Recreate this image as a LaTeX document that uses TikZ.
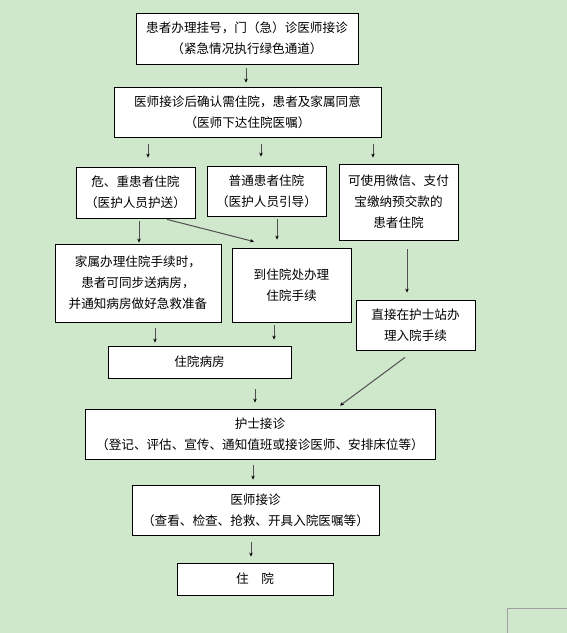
\documentclass[tikz,border=0pt]{standalone}
\usepackage{fontspec}
\newfontfamily\cjk{Noto Sans CJK SC}
\usetikzlibrary{arrows.meta}
\definecolor{bg}{RGB}{207,231,203}
\definecolor{arrgray}{RGB}{80,80,80}
\definecolor{markgray}{RGB}{160,160,160}
\tikzset{
  box/.style={draw=black, line width=0.8pt, fill=white, align=center, inner sep=0pt,
    font=\cjk\fontsize{12.6pt}{21pt}\selectfont},
  arr/.style={draw=arrgray, line width=1pt, -{Stealth[length=4pt,width=3.5pt,black]}},
}
\begin{document}
\begin{tikzpicture}[x=1pt,y=-1pt]
\fill[bg] (0,0) rectangle (567,633);
\useasboundingbox (0,0) rectangle (567,633);
\draw[markgray, line width=1pt] (567,608) -- (507,608) -- (507,633);

\node[box, minimum width=222pt, minimum height=51pt] (b1) at (247,38.5) {患者办理挂号，门（急）诊医师接诊\\（紧急情况执行绿色通道）};
\node[box, minimum width=267pt, minimum height=50pt] (b2) at (247.5,112) {医师接诊后确认需住院，患者及家属同意\\（医师下达住院医嘱）};
\node[box, minimum width=119pt, minimum height=51pt] (b3a) at (135.5,192.5) {危、重患者住院\\（医护人员护送）};
\node[box, minimum width=119pt, minimum height=50pt] (b3b) at (266.5,191) {普通患者住院\\（医护人员引导）};
\node[box, minimum width=119pt, minimum height=76pt] (b3c) at (398.5,202) {可使用微信、支付\\宝缴纳预交款的\\患者住院};
\node[box, minimum width=166pt, minimum height=78pt] (b4a) at (138,283) {家属办理住院手续时，\\患者可同步送病房，\\并通知病房做好急救准备};
\node[box, minimum width=119pt, minimum height=74pt] (b4b) at (291.5,285) {到住院处办理\\住院手续};
\node[box, minimum width=119pt, minimum height=50pt] (b4c) at (415.5,325) {直接在护士站办\\理入院手续};
\node[box, minimum width=183pt, minimum height=32pt] (b5) at (199.5,362) {住院病房};
\node[box, minimum width=350pt, minimum height=50pt] (b6) at (260,434) {护士接诊\\（登记、评估、宣传、通知值班或接诊医师、安排床位等）};
\node[box, minimum width=247pt, minimum height=50pt] (b7) at (255.5,510) {医师接诊\\（查看、检查、抢救、开具入院医嘱等）};
\node[box, minimum width=156pt, minimum height=32pt] (b8) at (255,579) {住　院};

\draw[arr] ([xshift=-1pt,yshift=-4pt]b1.south) -- ([xshift=-1.5pt,yshift=4pt]b2.north);
\draw[arr] ([xshift=-99.5pt,yshift=-7pt]b2.south) -- ([xshift=12.5pt,yshift=9pt]b3a.north);
\draw[arr] ([xshift=13.5pt,yshift=-7pt]b2.south) -- ([xshift=-5.5pt,yshift=9pt]b3b.north);
\draw[arr] ([xshift=125.5pt,yshift=-7pt]b2.south) -- ([xshift=-25.5pt,yshift=6pt]b3c.north);
\draw[arr] ([xshift=3.5pt,yshift=-3pt]b3a.south) -- ([xshift=1pt,yshift=1pt]b4a.north);
\draw[arr] ([xshift=31.5pt,yshift=-1pt]b3a.south) -- ([xshift=-37.5pt,yshift=6pt]b4b.north);
\draw[arr] ([xshift=10.5pt,yshift=-3pt]b3b.south) -- ([xshift=-14.5pt,yshift=8pt]b4b.north);
\draw[arr] ([xshift=8.5pt,yshift=-9pt]b3c.south) -- ([xshift=-8.5pt,yshift=7pt]b4c.north);
\draw[arr] ([xshift=17pt,yshift=-6pt]b4a.south) -- ([xshift=-44.5pt,yshift=3pt]b5.north);
\draw[arr] ([xshift=-17.5pt,yshift=-3pt]b4b.south) -- ([xshift=74.5pt,yshift=6pt]b5.north);
\draw[arr] ([xshift=-10.5pt,yshift=-7pt]b4c.south) -- ([xshift=80pt,yshift=3pt]b6.north);
\draw[arr] ([xshift=55.5pt,yshift=-11pt]b5.south) -- ([xshift=-5pt,yshift=6pt]b6.north);
\draw[arr] ([xshift=-7pt,yshift=-6pt]b6.south) -- ([xshift=-2.5pt,yshift=5pt]b7.north);
\draw[arr] ([xshift=-4.5pt,yshift=-7pt]b7.south) -- ([xshift=-4pt,yshift=6pt]b8.north);
\end{tikzpicture}
\end{document}
